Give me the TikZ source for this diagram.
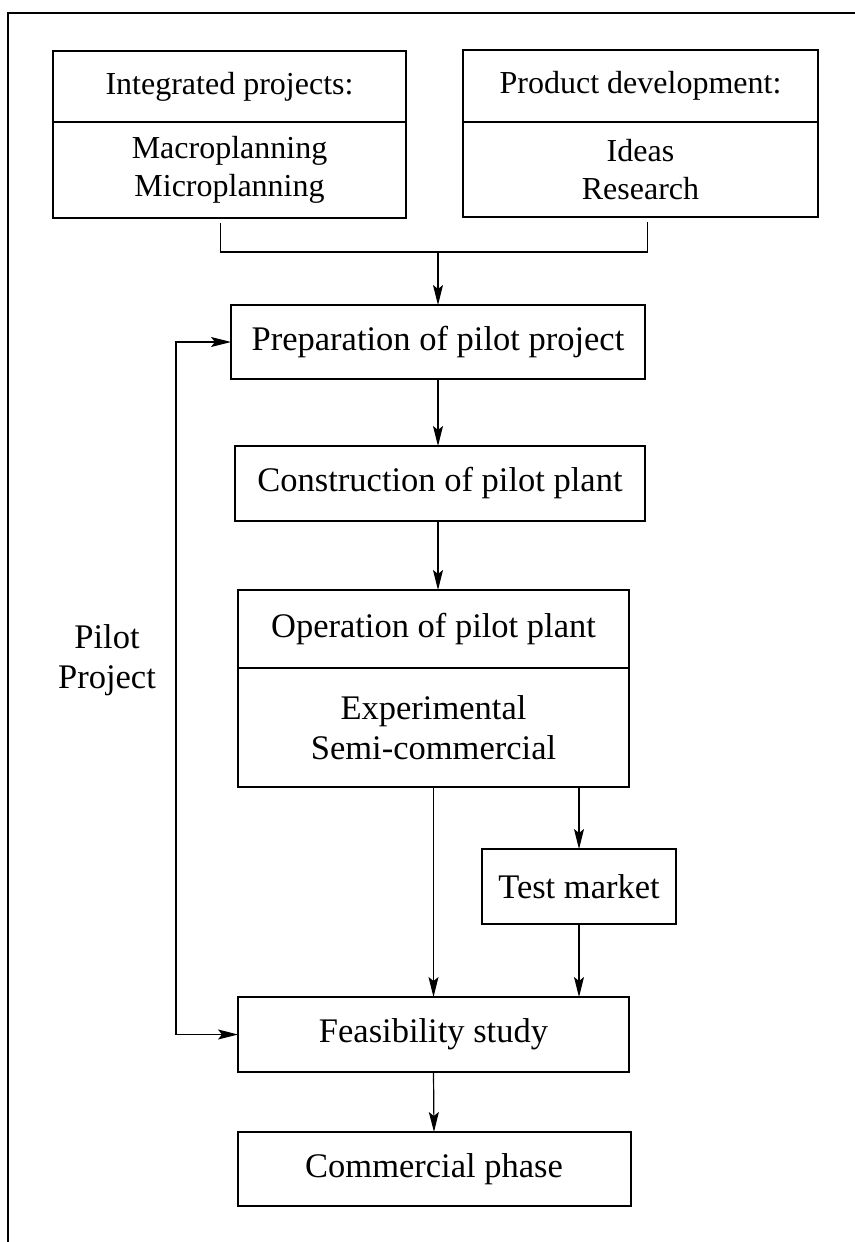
\documentclass[tikz,border=0pt]{standalone}
\usepackage{fontspec}
\setmainfont{Liberation Serif}
\usepackage{tikz}
\usetikzlibrary{arrows.meta, positioning}

\begin{document}
\begin{tikzpicture}[x=0.5pt, y=-0.5pt,
    >={Stealth[length=10pt, width=5pt, inset=2pt]},
    box/.style={draw, line width=1pt, inner sep=0pt, outer sep=0pt, align=center,
        font=\fontsize{17.25}{20}\selectfont},
    topbox/.style={box, font=\fontsize{16}{19}\selectfont},
    link/.style={line width=0.6pt},
    outer/.style={line width=1pt}]
    % Khung nền của hình
    \fill[white] (0,0) rectangle (855,1242);
    \useasboundingbox (0,0) rectangle (855,1242);
    \draw[outer] (8,1242) -- (8,13) -- (855,13);

    % Hai khối đầu vào ở trên cùng
    \node[topbox, minimum width=176.5pt, minimum height=35.5pt] (intHead) at (229.5,86.5) {Integrated projects:};
    \node[topbox, minimum width=176.5pt, minimum height=48pt, below=0pt of intHead] (intBody) {Macroplanning\\Microplanning};
    \node[topbox, minimum width=177.5pt, minimum height=36pt] (devHead) at (640.5,86) {Product development:};
    \node[topbox, minimum width=177.5pt, minimum height=47.5pt, below=0pt of devHead] (devBody) {Ideas\\Research};

    % Các bước của dự án thử nghiệm
    \node[box, minimum width=207pt, minimum height=37pt] (prep) at (438,342) {Preparation of pilot project};
    \node[box, minimum width=205pt, minimum height=37.5pt] (constr) at (440,483.5) {Construction of pilot plant};
    \node[box, minimum width=195.5pt, minimum height=39pt] (opHead) at (433.5,629) {Operation of pilot plant};
    \node[box, minimum width=195.5pt, minimum height=59.5pt, below=0pt of opHead] (opBody) {Experimental\\Semi-commercial};
    \node[box, minimum width=97pt, minimum height=37.5pt] (test) at (579,886.5) {Test market};
    \node[box, minimum width=195.5pt, minimum height=37.5pt] (feas) at (433.5,1034.5) {Feasibility study};
    \node[box, minimum width=196.5pt, minimum height=37pt] (comm) at (434,1169) {Commercial phase};

    % Nhãn bên trái
    \node[align=center, font=\fontsize{17.25}{20}\selectfont] (pilot) at (107,660) {Pilot\\Project};

    % Nối hai khối trên vào bước chuẩn bị
    \coordinate (join) at (438,252);
    \draw[link] ([shift={(-9,5)}]intBody.south) |- (join) -| ([shift={(7,5)}]devBody.south);
    \draw[link, ->] (join) -- (prep.north);

    % Các mũi tên theo chiều dọc
    \draw[link, ->] (prep.south) -- (prep.south |- constr.north);
    \draw[link, ->] (constr.south -| prep.south) -- (prep.south |- opHead.north);
    \draw[link, ->] (opBody.south) -- (feas.north);
    \draw[link, ->] (opBody.south -| test.north) -- (test.north);
    \draw[link, ->] (test.south) -- (test.south |- feas.north);
    \draw[link, ->] (feas.south) -- (comm.north);

    % Vòng bên trái của dự án thử nghiệm
    \draw[link, <->] (prep.west) -- ++(-55,0) |- (feas.west);
\end{tikzpicture}
\end{document}
